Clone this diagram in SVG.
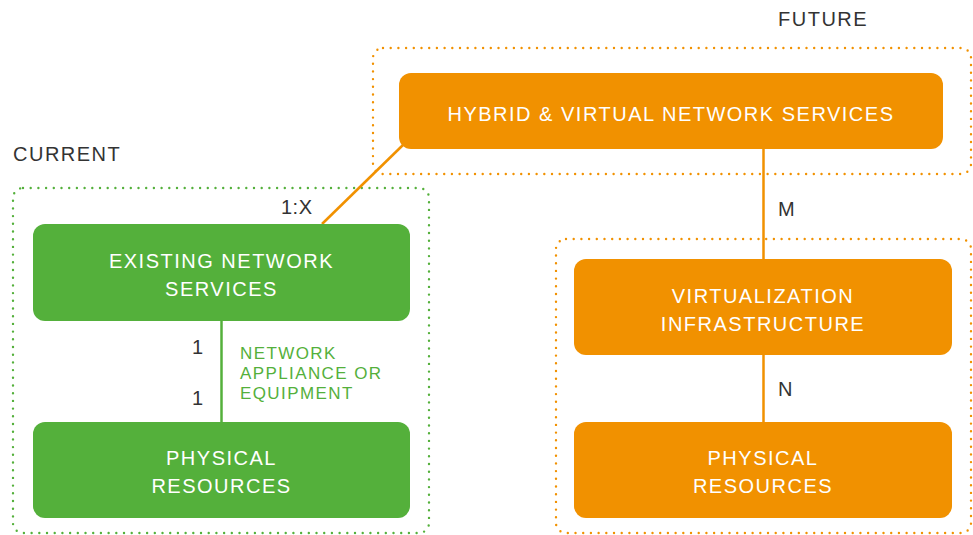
<svg xmlns="http://www.w3.org/2000/svg" width="973" height="535" viewBox="0 0 973 535">
<style>
text{font-family:"Liberation Sans",Arial,sans-serif}
.lbl{fill:#333;font-size:20px;letter-spacing:1.5px}
.nt{fill:#fff;font-size:20px;text-anchor:middle;letter-spacing:1.5px}
.gt{fill:#54b03b;font-size:17px;letter-spacing:1.4px}
.gbox{fill:#54b03b}
.obox{fill:#f19100}
.gdot{fill:none;stroke:#54b03b;stroke-width:2.4;stroke-linecap:round;stroke-dasharray:0 7.7}
.odot{fill:none;stroke:#f19100;stroke-width:2.4;stroke-linecap:round;stroke-dasharray:0 7.7}
.gl{stroke:#54b03b;stroke-width:2.5}
.ol{stroke:#f19100;stroke-width:2.5}
</style>
<rect width="973" height="535" fill="#fff"/>
<g id="containers">
<rect class="gdot" x="13" y="188" width="416" height="345" rx="10"/>
<rect class="odot" x="373" y="48" width="598" height="126" rx="10"/>
<rect class="odot" x="556" y="239" width="415" height="294" rx="10"/>
</g>
<g id="connectors">
<line class="ol" x1="322" y1="224" x2="404" y2="144"/>
<line class="gl" x1="221.5" y1="320" x2="221.5" y2="423"/>
<line class="ol" x1="763.5" y1="148" x2="763.5" y2="260"/>
<line class="ol" x1="763.5" y1="354" x2="763.5" y2="423"/>
</g>
<g id="labels">
<text class="lbl" x="13" y="161">CURRENT</text>
<text class="lbl" x="778" y="26">FUTURE</text>
<text class="lbl" x="281" y="214" style="letter-spacing:0.5px">1:X</text>
<text class="lbl" x="192" y="354">1</text>
<text class="lbl" x="192" y="405">1</text>
<text class="lbl" x="778" y="216">M</text>
<text class="lbl" x="778" y="396">N</text>
<text class="gt" x="240" y="359">NETWORK</text>
<text class="gt" x="240" y="379">APPLIANCE OR</text>
<text class="gt" x="240" y="399">EQUIPMENT</text>
</g>
<g id="hybrid">
<rect class="obox" x="399" y="73" width="544" height="76" rx="12"/>
<text class="nt" x="671" y="121">HYBRID &amp; VIRTUAL NETWORK SERVICES</text>
</g>
<g id="existing">
<rect class="gbox" x="33" y="224" width="377" height="97" rx="12"/>
<text class="nt" x="221.5" y="268">EXISTING NETWORK</text>
<text class="nt" x="221.5" y="296">SERVICES</text>
</g>
<g id="physical-current">
<rect class="gbox" x="33" y="422" width="377" height="96" rx="12"/>
<text class="nt" x="221.5" y="465">PHYSICAL</text>
<text class="nt" x="221.5" y="493">RESOURCES</text>
</g>
<g id="virtualization">
<rect class="obox" x="574" y="259" width="378" height="96" rx="12"/>
<text class="nt" x="763" y="303">VIRTUALIZATION</text>
<text class="nt" x="763" y="331">INFRASTRUCTURE</text>
</g>
<g id="physical-future">
<rect class="obox" x="574" y="422" width="378" height="96" rx="12"/>
<text class="nt" x="763" y="465">PHYSICAL</text>
<text class="nt" x="763" y="493">RESOURCES</text>
</g>
</svg>
